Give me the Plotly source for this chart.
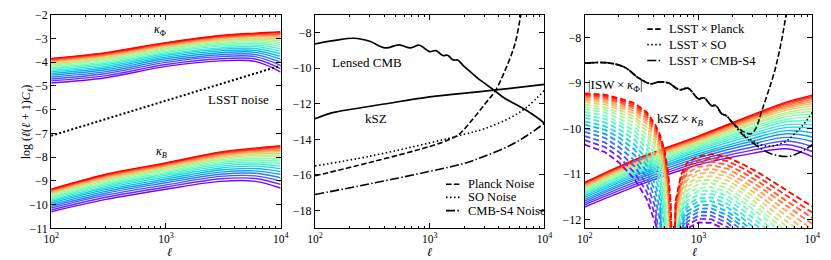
import math
import plotly.graph_objects as go

# ------------------------------------------------------------------ data
ELL_K = [100, 300, 1000, 3000, 6000, 10000]

KAPPA_PHI = [
    [-4.88, -4.66, -4.18, -3.95, -3.97, -4.42],
    [-4.79, -4.57, -4.10, -3.86, -3.87, -4.28],
    [-4.71, -4.48, -4.01, -3.77, -3.77, -4.14],
    [-4.63, -4.40, -3.94, -3.69, -3.68, -4.01],
    [-4.55, -4.32, -3.86, -3.61, -3.59, -3.88],
    [-4.48, -4.25, -3.79, -3.53, -3.51, -3.76],
    [-4.41, -4.18, -3.72, -3.46, -3.43, -3.65],
    [-4.35, -4.11, -3.66, -3.40, -3.35, -3.54],
    [-4.28, -4.05, -3.60, -3.33, -3.28, -3.44],
    [-4.23, -3.99, -3.55, -3.27, -3.21, -3.34],
    [-4.17, -3.93, -3.49, -3.21, -3.15, -3.25],
    [-4.12, -3.88, -3.44, -3.16, -3.09, -3.17],
    [-4.07, -3.83, -3.40, -3.11, -3.04, -3.09],
    [-4.03, -3.79, -3.36, -3.07, -2.99, -3.02],
    [-3.99, -3.75, -3.32, -3.03, -2.94, -2.96],
    [-3.96, -3.71, -3.28, -2.99, -2.90, -2.90],
    [-3.92, -3.68, -3.25, -2.96, -2.87, -2.84],
    [-3.90, -3.65, -3.23, -2.93, -2.83, -2.80],
    [-3.87, -3.62, -3.20, -2.90, -2.81, -2.76],
    [-3.85, -3.60, -3.18, -2.88, -2.78, -2.72],
]

KAPPA_B = [
    [-10.30, -9.78, -9.35, -9.02, -9.02, -9.30],
    [-10.22, -9.69, -9.26, -8.91, -8.90, -9.15],
    [-10.14, -9.60, -9.17, -8.81, -8.79, -9.01],
    [-10.07, -9.52, -9.08, -8.72, -8.68, -8.87],
    [-10.00, -9.44, -9.00, -8.63, -8.58, -8.73],
    [-9.93, -9.37, -8.92, -8.54, -8.48, -8.61],
    [-9.87, -9.30, -8.84, -8.46, -8.38, -8.49],
    [-9.81, -9.23, -8.77, -8.38, -8.29, -8.38],
    [-9.75, -9.17, -8.71, -8.30, -8.21, -8.27],
    [-9.70, -9.11, -8.65, -8.23, -8.13, -8.17],
    [-9.65, -9.05, -8.59, -8.17, -8.06, -8.08],
    [-9.60, -9.00, -8.53, -8.11, -7.99, -7.99],
    [-9.56, -8.95, -8.48, -8.05, -7.93, -7.91],
    [-9.52, -8.91, -8.44, -8.00, -7.87, -7.84],
    [-9.48, -8.87, -8.39, -7.95, -7.81, -7.77],
    [-9.45, -8.83, -8.36, -7.91, -7.77, -7.71],
    [-9.42, -8.80, -8.32, -7.87, -7.72, -7.65],
    [-9.39, -8.77, -8.29, -7.84, -7.68, -7.60],
    [-9.37, -8.74, -8.26, -7.81, -7.65, -7.56],
    [-9.35, -8.72, -8.24, -7.78, -7.62, -7.52],
]

ELL_LSST = [100, 1000, 10000]
LSST_NOISE = [-7.10, -5.63, -4.15]

ELL_LENSED = [100, 150, 220, 300, 410, 540, 680, 810, 1000, 1130, 1300, 1430,
              1600, 1750, 1950, 2200, 2600, 3000, 3700, 4500, 5500, 7000, 8500, 10000]
LENSED_CMB = [-8.65, -8.45, -8.33, -8.50, -8.87, -8.70, -8.87, -8.72, -9.08, -9.02,
              -9.30, -9.28, -9.55, -9.55, -9.85, -10.15, -10.55, -10.85, -11.28,
              -11.70, -12.00, -12.38, -12.75, -13.10]

ELL_KSZ = [100, 140, 160, 400, 1000, 3000, 10000]
KSZ = [-12.85, -12.52, -12.44, -12.02, -11.62, -11.30, -10.92]

ELL_PLANCK = [100, 300, 1000, 1500, 1800, 2350, 3060, 3720, 4540, 5530, 6230, 6600]
PLANCK_NOISE = [-16.05, -15.30, -14.40, -14.00, -13.72, -12.90, -11.98, -11.28,
                -10.13, -8.65, -7.00, -6.20]

ELL_SO = [100, 300, 1000, 2000, 3000, 5000, 7000, 10000]
SO_NOISE = [-15.50, -14.95, -14.20, -13.72, -13.40, -12.80, -12.20, -11.25]

ELL_S4 = [100, 300, 1000, 2000, 3000, 5000, 7000, 10000]
S4_NOISE = [-17.10, -16.50, -15.80, -15.35, -14.95, -14.35, -13.80, -13.10]

KSZ_X_KB = [
    [-11.73, -11.25, -10.80, -10.55, -10.45, -10.62],
    [-11.68, -11.20, -10.75, -10.48, -10.36, -10.51],
    [-11.64, -11.15, -10.70, -10.41, -10.28, -10.40],
    [-11.60, -11.10, -10.65, -10.34, -10.20, -10.29],
    [-11.56, -11.06, -10.60, -10.28, -10.12, -10.19],
    [-11.52, -11.02, -10.56, -10.22, -10.05, -10.10],
    [-11.48, -10.98, -10.51, -10.16, -9.98, -10.00],
    [-11.45, -10.94, -10.47, -10.11, -9.92, -9.92],
    [-11.42, -10.90, -10.44, -10.06, -9.85, -9.84],
    [-11.39, -10.87, -10.40, -10.01, -9.80, -9.76],
    [-11.36, -10.84, -10.37, -9.97, -9.74, -9.69],
    [-11.33, -10.81, -10.34, -9.92, -9.69, -9.63],
    [-11.31, -10.78, -10.31, -9.89, -9.65, -9.57],
    [-11.29, -10.76, -10.28, -9.85, -9.60, -9.51],
    [-11.27, -10.73, -10.26, -9.82, -9.56, -9.46],
    [-11.25, -10.71, -10.24, -9.79, -9.53, -9.41],
    [-11.23, -10.69, -10.22, -9.76, -9.50, -9.37],
    [-11.21, -10.68, -10.20, -9.74, -9.47, -9.33],
    [-11.20, -10.66, -10.18, -9.72, -9.44, -9.30],
    [-11.19, -10.65, -10.17, -9.70, -9.42, -9.27],
]

ELL_ISW = [100, 150, 200, 275, 350, 420, 460, 500, 540, 570, 600, 630, 700, 800,
           1000, 1300, 1800, 2500, 3500, 5000, 7000, 10000]
ISW_X_KPHI = [
    [-10.36, -10.52, -10.75, -11.12, -11.55, -12.10, -13.5, -13.5, -13.5, -13.5, -13.5, -12.80, -12.45, -12.20, -12.07, -12.08, -12.25, -12.55, -12.90, -13.30, -13.70, -14.10],
    [-10.26, -10.41, -10.63, -10.98, -11.39, -11.92, -13.2, -13.5, -13.5, -13.5, -13.5, -12.74, -12.38, -12.12, -11.99, -12.00, -12.17, -12.46, -12.80, -13.19, -13.58, -13.98],
    [-10.17, -10.31, -10.52, -10.84, -11.23, -11.74, -12.6, -13.5, -13.5, -13.5, -13.5, -12.67, -12.30, -12.05, -11.92, -11.92, -12.08, -12.37, -12.70, -13.08, -13.47, -13.85],
    [-10.08, -10.21, -10.41, -10.71, -11.08, -11.57, -12.03, -13.5, -13.5, -13.5, -13.5, -12.61, -12.23, -11.97, -11.84, -11.84, -12.00, -12.27, -12.60, -12.98, -13.35, -13.72],
    [-10.00, -10.12, -10.30, -10.59, -10.94, -11.41, -11.76, -13.5, -13.5, -13.5, -13.5, -12.55, -12.15, -11.90, -11.77, -11.76, -11.91, -12.18, -12.50, -12.87, -13.23, -13.60],
    [-9.92, -10.03, -10.20, -10.47, -10.81, -11.26, -11.57, -13.5, -13.5, -13.5, -13.5, -12.48, -12.08, -11.82, -11.69, -11.68, -11.83, -12.09, -12.40, -12.76, -13.12, -13.47],
    [-9.85, -9.95, -10.11, -10.36, -10.68, -11.11, -11.39, -12.4, -13.5, -13.5, -13.5, -12.42, -12.00, -11.74, -11.61, -11.60, -11.74, -12.00, -12.30, -12.65, -13.00, -13.35],
    [-9.77, -9.87, -10.02, -10.25, -10.56, -10.97, -11.23, -11.88, -13.5, -13.5, -13.5, -12.36, -11.93, -11.67, -11.54, -11.52, -11.66, -11.91, -12.20, -12.55, -12.88, -13.22],
    [-9.71, -9.79, -9.93, -10.15, -10.44, -10.84, -11.10, -11.64, -13.5, -13.5, -13.5, -12.30, -11.85, -11.59, -11.46, -11.44, -11.57, -11.81, -12.10, -12.44, -12.77, -13.10],
    [-9.64, -9.72, -9.86, -10.06, -10.34, -10.72, -10.97, -11.45, -13.5, -13.5, -13.5, -12.23, -11.78, -11.51, -11.38, -11.37, -11.49, -11.72, -12.00, -12.33, -12.65, -12.97],
    [-9.58, -9.65, -9.78, -9.97, -10.24, -10.61, -10.86, -11.27, -12.6, -13.5, -13.5, -12.17, -11.70, -11.44, -11.31, -11.29, -11.40, -11.63, -11.90, -12.22, -12.53, -12.85],
    [-9.53, -9.59, -9.71, -9.89, -10.14, -10.50, -10.75, -11.15, -12.4, -13.5, -13.5, -12.11, -11.63, -11.36, -11.23, -11.21, -11.32, -11.54, -11.80, -12.11, -12.42, -12.72],
    [-9.48, -9.54, -9.65, -9.81, -10.06, -10.40, -10.64, -11.03, -11.82, -13.5, -13.5, -12.04, -11.55, -11.28, -11.15, -11.13, -11.23, -11.44, -11.70, -12.01, -12.30, -12.60],
    [-9.43, -9.48, -9.59, -9.75, -9.98, -10.31, -10.55, -10.91, -11.59, -13.5, -13.5, -11.98, -11.48, -11.21, -11.08, -11.05, -11.15, -11.35, -11.60, -11.90, -12.18, -12.47],
    [-9.39, -9.43, -9.54, -9.68, -9.90, -10.23, -10.47, -10.81, -11.45, -12.8, -13.5, -11.92, -11.40, -11.13, -11.00, -10.97, -11.06, -11.26, -11.50, -11.79, -12.06, -12.35],
    [-9.35, -9.39, -9.49, -9.62, -9.84, -10.16, -10.39, -10.73, -11.34, -12.5, -13.5, -11.85, -11.33, -11.06, -10.93, -10.89, -10.98, -11.17, -11.40, -11.68, -11.95, -12.22],
    [-9.31, -9.35, -9.44, -9.57, -9.78, -10.09, -10.32, -10.64, -11.22, -12.3, -13.5, -11.79, -11.25, -10.98, -10.85, -10.81, -10.89, -11.08, -11.30, -11.57, -11.83, -12.10],
    [-9.28, -9.32, -9.41, -9.53, -9.73, -10.03, -10.26, -10.57, -11.12, -12.01, -13.5, -11.73, -11.18, -10.90, -10.77, -10.73, -10.81, -10.98, -11.20, -11.47, -11.71, -11.97],
    [-9.26, -9.29, -9.37, -9.49, -9.68, -9.98, -10.21, -10.51, -11.02, -11.76, -13.5, -11.66, -11.10, -10.83, -10.70, -10.65, -10.72, -10.89, -11.10, -11.36, -11.60, -11.85],
    [-9.23, -9.26, -9.34, -9.45, -9.64, -9.93, -10.15, -10.45, -10.95, -11.60, -13.5, -11.60, -11.03, -10.75, -10.62, -10.57, -10.64, -10.80, -11.00, -11.25, -11.48, -11.72],
]

ELL_XPLANCK = [100, 160, 225, 300, 380, 450, 540, 680, 810, 1000, 1120, 1300, 1420, 1600,
               1750, 2000, 2400, 2900, 3200, 3600, 4100, 4700, 5300, 5900, 6500]
X_PLANCK = [-8.57, -8.56, -8.66, -8.90, -9.02, -8.98, -9.00, -9.15, -9.12, -9.35, -9.33,
            -9.50, -9.50, -9.68, -9.72, -9.88, -10.05, -10.12, -10.00, -9.62, -9.20,
            -8.72, -8.15, -7.50, -6.90]
ELL_XSO = [100, 160, 225, 300, 380, 450, 540, 680, 810, 1000, 1120, 1300, 1420, 1600,
           1750, 2000, 2400, 3000, 3500, 4200, 5000, 6000, 7000, 8500, 10000]
X_SO = [-8.57, -8.56, -8.66, -8.90, -9.02, -8.98, -9.00, -9.15, -9.12, -9.35, -9.33,
        -9.50, -9.50, -9.68, -9.72, -9.88, -10.10, -10.28, -10.36, -10.39, -10.36,
        -10.27, -10.12, -9.90, -9.65]
ELL_XS4 = [100, 160, 225, 300, 380, 450, 540, 680, 810, 1000, 1120, 1300, 1420, 1600,
           1750, 2000, 2400, 3000, 4000, 5000, 6000, 7000, 8500, 10000]
X_S4 = [-8.57, -8.56, -8.66, -8.90, -9.02, -8.98, -9.00, -9.15, -9.12, -9.35, -9.33,
        -9.50, -9.50, -9.68, -9.72, -9.88, -10.12, -10.32, -10.52, -10.60, -10.62,
        -10.58, -10.48, -10.36]

TICK_LABELS = ["10<sup>2</sup>", "10<sup>3</sup>", "10<sup>4</sup>"]
NOISE_LABELS = ["Planck Noise", "SO Noise", "CMB-S4 Noise"]
CROSS_LABELS = ["LSST\u2009×\u2009Planck", "LSST\u2009×\u2009SO", "LSST\u2009×\u2009CMB-S4"]

# ------------------------------------------------------------------ style
FONT = "Liberation Serif, DejaVu Serif, serif"
W, H = 831, 260
TOP_PX, BOT_PX = 8, 234


def rainbow(x):
    r = min(1.0, abs(2 * x - 0.5))
    g = math.sin(math.pi * x)
    b = math.cos(math.pi * x / 2)
    return "rgb(%d,%d,%d)" % (round(255 * r), round(255 * g), round(255 * max(b, 0)))


DASH = "5.5px,2.4px"
DOT = "1.5px,2.5px"
DASHDOT = "9px,2.4px,1.5px,2.4px"
STYLES = [DASH, DOT, DASHDOT]

fig = go.Figure()


def add(x, y, ax, color="black", width=1.6, dash="solid", shape="spline"):
    fig.add_trace(go.Scatter(
        x=x, y=y, mode="lines", xaxis="x" + ax, yaxis="y" + ax,
        line=dict(color=color, width=width, dash=dash, shape=shape),
        showlegend=False, hoverinfo="skip"))


n = len(KAPPA_PHI)
# panel 1
for k in range(n):
    add(ELL_K, KAPPA_PHI[k], "", color=rainbow(k / (n - 1)), width=1.4)
for k in range(n):
    add(ELL_K, KAPPA_B[k], "", color=rainbow(k / (n - 1)), width=1.4)
add(ELL_LSST, LSST_NOISE, "", width=2, dash="2px,2.2px", shape="linear")

# panel 2
add(ELL_LENSED, LENSED_CMB, "2", width=1.7)
add(ELL_KSZ, KSZ, "2", width=1.7)
add(ELL_PLANCK, PLANCK_NOISE, "2", width=1.6, dash=DASH)
add(ELL_SO, SO_NOISE, "2", width=1.6, dash=DOT)
add(ELL_S4, S4_NOISE, "2", width=1.6, dash=DASHDOT)

# panel 3
for k in range(n):
    add(ELL_K, KSZ_X_KB[k], "3", color=rainbow(k / (n - 1)), width=1.4)
for k in range(n):
    add(ELL_ISW, ISW_X_KPHI[k], "3", color=rainbow(k / (n - 1)), width=1.8,
        dash="6px,3px", shape="linear")
add(ELL_XPLANCK, X_PLANCK, "3", width=1.6, dash=DASH)
add(ELL_XSO, X_SO, "3", width=1.6, dash=DOT)
add(ELL_XS4, X_S4, "3", width=1.6, dash=DASHDOT)

minor_vals = [200, 300, 400, 500, 600, 700, 800, 900,
              2000, 3000, 4000, 5000, 6000, 7000, 8000, 9000]


def xaxis(dom, anchor):
    return dict(type="log", range=[2, 4], domain=dom, anchor=anchor,
                tickmode="array", tickvals=[100, 1000, 10000], ticktext=TICK_LABELS,
                ticks="inside", ticklen=5, tickwidth=1, tickcolor="black",
                showline=True, linecolor="black", linewidth=1, mirror="ticks",
                showgrid=False, zeroline=False, ticklabelstandoff=0,
                minor=dict(tickmode="array", tickvals=minor_vals, ticks="inside",
                           ticklen=2.5, tickwidth=0.8, tickcolor="black", showgrid=False),
                tickfont=dict(family=FONT, size=11.5, color="black"))


def yaxis(dom, anchor, rng, dt):
    return dict(range=rng, domain=dom, anchor=anchor, dtick=dt, tick0=0,
                ticks="inside", ticklen=5, tickwidth=1, tickcolor="black",
                showline=True, linecolor="black", linewidth=1, mirror="ticks",
                showgrid=False, zeroline=False,
                tickfont=dict(family=FONT, size=12, color="black"))


YD = [1 - BOT_PX / H, 1 - TOP_PX / H]
X1 = [44 / W, 278 / W]
X2 = [313 / W, 547 / W]
X3 = [588 / W, 820 / W]

annots = []
shapes = []


def txt(s, x, y, ax, size=13, xanchor="center"):
    annots.append(dict(text=s, x=math.log10(x), y=y, xref="x" + ax, yref="y" + ax,
                       showarrow=False, xanchor=xanchor, yanchor="middle",
                       font=dict(family=FONT, size=size, color="black")))


txt("<i>κ</i><sub>Φ</sub>", 890, -2.65, "", size=12)
txt("LSST noise", 4300, -5.58, "", size=13)
txt("<i>κ</i><sub><i>B</i></sub>", 920, -7.79, "", size=12)
txt("Lensed CMB", 284, -9.67, "2", size=13)
txt("kSZ", 340, -12.82, "2", size=13)
txt("|ISW\u2009×\u2009<i>κ</i><sub>Φ</sub>|", 103, -9.05, "3", size=13, xanchor="left")
txt("kSZ\u2009×\u2009<i>κ</i><sub><i>B</i></sub>", 686, -9.81, "3", size=13)


# legends: key lines + labels placed in axis-domain coordinates
def legend_block(ax, labels, ys, x0, x1, xt):
    for lab, yy, st in zip(labels, ys, STYLES):
        shapes.append(dict(type="line", xref=ax + " domain", yref=ax.replace("x", "y"),
                           x0=x0, x1=x1, y0=yy, y1=yy,
                           line=dict(color="black", width=1.6, dash=st)))
        annots.append(dict(text=lab, x=xt, y=yy, xref=ax + " domain",
                           yref=ax.replace("x", "y"), showarrow=False, xanchor="left",
                           yanchor="middle",
                           font=dict(family=FONT, size=12.5, color="black")))


legend_block("x2", NOISE_LABELS, [-16.52, -17.26, -18.0], 0.571, 0.635, 0.657)
legend_block("x3", CROSS_LABELS, [-7.82, -8.16, -8.51], 0.275, 0.339, 0.361)

for dom in (X1, X2, X3):
    annots.append(dict(text="<i>ℓ</i>", x=(dom[0] + dom[1]) / 2, y=0.0,
                       xref="paper", yref="paper", showarrow=False, yanchor="bottom",
                       borderpad=0, yshift=-7,
                       font=dict(family=FONT, size=12, color="black")))
annots.append(dict(text="log (<i>ℓ</i>(<i>ℓ</i> + 1)<i>C<sub>ℓ</sub></i>)", x=10 / W,
                   y=(YD[0] + YD[1]) / 2, xref="paper", yref="paper", showarrow=False,
                   textangle=-90, font=dict(family=FONT, size=12, color="black")))

fig.update_layout(
    width=W, height=H, autosize=False,
    margin=dict(l=0, r=0, t=0, b=0),
    paper_bgcolor="white", plot_bgcolor="white",
    xaxis=xaxis(X1, "y"), yaxis=yaxis(YD, "x", [-11, -2], 1),
    xaxis2=xaxis(X2, "y2"), yaxis2=yaxis(YD, "x2", [-19, -7], 2),
    xaxis3=xaxis(X3, "y3"), yaxis3=yaxis(YD, "x3", [-12.2, -7.5], 1),
    annotations=annots, shapes=shapes,
    showlegend=False,
)

fig.write_html("out.html", config={"displayModeBar": False},
               post_script="document.body.style.margin='0px';")
